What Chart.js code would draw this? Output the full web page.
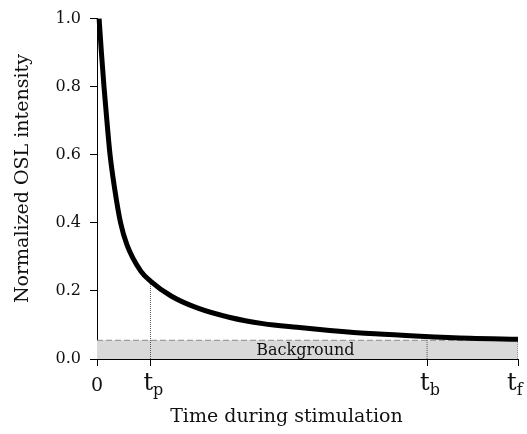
<!DOCTYPE html>
<html>
<head>
<meta charset="utf-8">
<script src="https://cdn.jsdelivr.net/npm/chart.js@4.4.1/dist/chart.umd.min.js"></script>
<style>
  html, body { margin: 0; padding: 0; background: #fff; }
  canvas { display: block; }
</style>
</head>
<body>
<canvas id="chart" width="527" height="434"></canvas>
<script>
// time during stimulation (arbitrary units, 0..100) and normalized OSL signal
const timeValues = [0.5, 1.05, 1.66, 2.35, 3.1, 4.2, 5.6, 7.1, 10.4, 12.7, 17.6, 23.8, 31.6, 39.4, 47.5, 55.3, 66, 76.7, 88.6, 100]
const intensity = [1.0, 0.9, 0.8, 0.7, 0.6, 0.5, 0.4, 0.336, 0.258, 0.229, 0.185, 0.15, 0.122, 0.104, 0.093, 0.084, 0.074, 0.067, 0.061, 0.058]

const backgroundLevel = 0.055
const markerNames = ["p", "b", "f"]
const markerTimes = [12.7, 78.4, 100]
const markerHeights = [0.229, 0.066, 0.058]
const xTickValues = [0, 12.7, 78.4, 100]
const yTickValues = [0, 0.2, 0.4, 0.6, 0.8, 1.0]

const serif = "'DejaVu Serif', 'Liberation Serif', serif"
const ink = "#111"

const curve = timeValues.map((t, i) => ({ x: t, y: intensity[i] }))
const dropLines = markerTimes.map((t, i) => ({
  data: [{ x: t, y: 0 }, { x: t, y: markerHeights[i] }],
  borderColor: "#555",
  borderWidth: 1,
  borderDash: [1, 1],
  pointRadius: 0,
  fill: false,
  order: 2
}))

// x tick labels with subscripts, axis titles and the band caption
const labels = {
  id: "labels",
  afterDraw(chart) {
    const { ctx, scales: { x, y } } = chart
    ctx.save()
    ctx.fillStyle = ink
    ctx.textBaseline = "alphabetic"

    ctx.font = `19px ${serif}`
    ctx.textAlign = "center"
    ctx.fillText("0", x.getPixelForValue(0), 391)

    const shifts = [-7, -7, -11]
    markerTimes.forEach((t, i) => {
      const px = x.getPixelForValue(t) + shifts[i]
      ctx.textAlign = "left"
      ctx.font = `24px ${serif}`
      ctx.fillText("t", px, 390)
      const w = ctx.measureText("t").width
      ctx.font = `16px ${serif}`
      ctx.fillText(markerNames[i], px + w, 395)
    })

    ctx.font = `19px ${serif}`
    ctx.textAlign = "center"
    ctx.fillText("Time during stimulation", x.getPixelForValue(45), 422)

    ctx.font = `16px ${serif}`
    ctx.fillText("Background", x.getPixelForValue(49.5), 355)

    ctx.translate(23, y.getPixelForValue(0.53))
    ctx.rotate(-Math.PI / 2)
    ctx.font = `19px ${serif}`
    ctx.textBaseline = "middle"
    ctx.fillText("Normalized OSL intensity", 0, 0)
    ctx.restore()
  }
}

new Chart(document.getElementById("chart").getContext("2d"), {
  type: "line",
  data: {
    datasets: [
      {
        data: curve,
        borderColor: "#000",
        borderWidth: 5,
        pointRadius: 0,
        cubicInterpolationMode: "monotone",
        fill: false,
        clip: false,
        order: 0
      },
      {
        data: [{ x: 0, y: backgroundLevel }, { x: 100, y: backgroundLevel }],
        borderColor: "#8a8a8a",
        borderWidth: 1,
        borderDash: [6, 3],
        backgroundColor: "#d9d9d9",
        pointRadius: 0,
        fill: "origin",
        order: 3
      },
      ...dropLines
    ]
  },
  options: {
    responsive: false,
    animation: false,
    layout: { padding: { left: 0, top: 14, right: 9, bottom: 0 } },
    plugins: { legend: { display: false }, tooltip: { enabled: false } },
    scales: {
      x: {
        type: "linear",
        min: 0,
        max: 100,
        z: 1,
        afterBuildTicks: (scale) => { scale.ticks = xTickValues.map(v => ({ value: v })) },
        afterFit: (scale) => { scale.height = 75 },
        ticks: { display: false },
        grid: { drawOnChartArea: false, tickLength: 7, color: "#000", tickWidth: 1 },
        border: { color: "#000", width: 1 }
      },
      y: {
        min: 0,
        max: 1,
        z: 1,
        afterBuildTicks: (scale) => { scale.ticks = yTickValues.map(v => ({ value: v })) },
        afterFit: (scale) => { scale.width = 97 },
        ticks: {
          color: ink,
          padding: 9,
          font: { family: serif, size: 16 },
          callback: (v) => v.toFixed(1)
        },
        grid: { drawOnChartArea: false, tickLength: 7, color: "#000" },
        border: { color: "#000", width: 1 }
      }
    }
  },
  plugins: [labels]
})
</script>
</body>
</html>
